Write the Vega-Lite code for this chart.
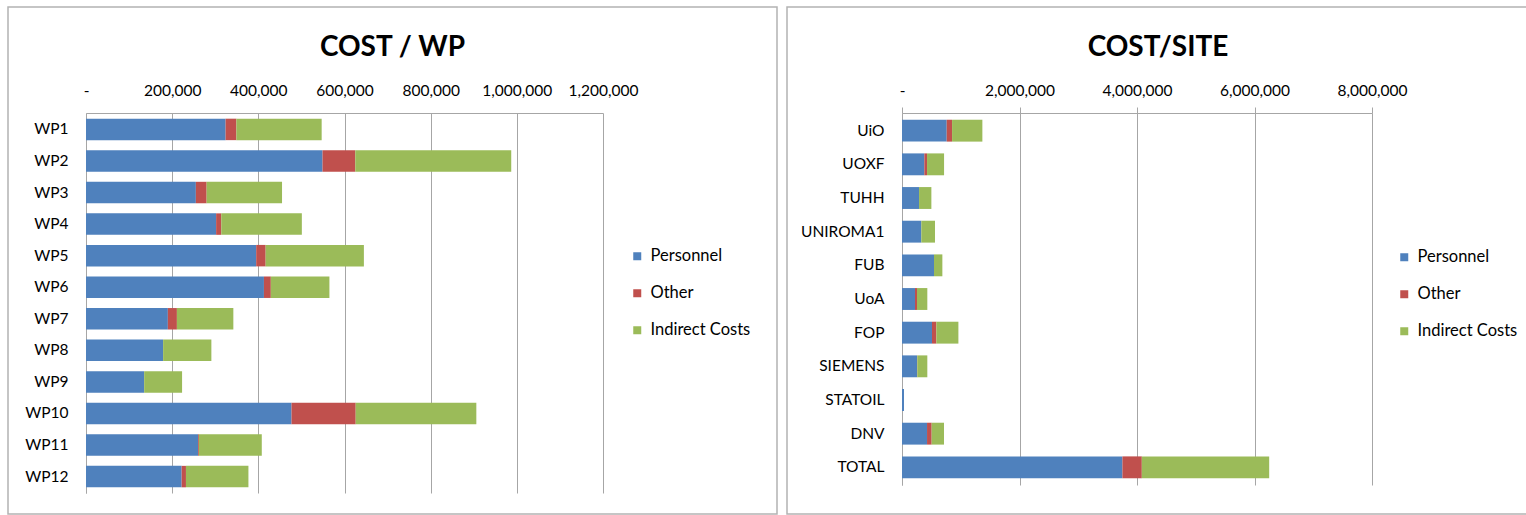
{
  "$schema": "https://vega.github.io/schema/vega-lite/v6.json",
  "padding": {"left": 7, "top": 6, "right": 0, "bottom": 0},
  "spacing": 8,
  "resolve": {"scale": {"color": "independent"}, "legend": {"color": "independent"}},
  "config": {
    "font": "Lato",
    "view": {"stroke": "#b3b3b3", "strokeWidth": 1.5},
    "axis": {"labelFont": "Lato", "labelFontSize": 15.5, "labelColor": "#000", "domainColor": "#a6a6a6", "gridColor": "#a6a6a6", "tickColor": "#a6a6a6", "title": null, "labelOverlap": false, "labelFlush": false, "labelBound": false},
    "legend": {"labelFont": "Lato", "labelFontSize": 16.5, "labelColor": "#000", "symbolType": "square", "symbolSize": 64, "symbolStrokeWidth": 0, "rowPadding": 20, "labelOffset": 5, "padding": 0},
    "title": {"font": "Lato", "fontSize": 28, "fontWeight": "bold", "color": "#000", "anchor": "middle", "frame": "group", "baseline": "alphabetic"}
  },
  "datasets": {
    "wp": [
      {"wp": "WP1", "type": "Personnel", "value": 324000}, {"wp": "WP1", "type": "Other", "value": 25000}, {"wp": "WP1", "type": "Indirect Costs", "value": 198000},
      {"wp": "WP2", "type": "Personnel", "value": 549000}, {"wp": "WP2", "type": "Other", "value": 76000}, {"wp": "WP2", "type": "Indirect Costs", "value": 362000},
      {"wp": "WP3", "type": "Personnel", "value": 255000}, {"wp": "WP3", "type": "Other", "value": 25000}, {"wp": "WP3", "type": "Indirect Costs", "value": 175000},
      {"wp": "WP4", "type": "Personnel", "value": 302000}, {"wp": "WP4", "type": "Other", "value": 12000}, {"wp": "WP4", "type": "Indirect Costs", "value": 187000},
      {"wp": "WP5", "type": "Personnel", "value": 395000}, {"wp": "WP5", "type": "Other", "value": 22000}, {"wp": "WP5", "type": "Indirect Costs", "value": 228000},
      {"wp": "WP6", "type": "Personnel", "value": 413000}, {"wp": "WP6", "type": "Other", "value": 16000}, {"wp": "WP6", "type": "Indirect Costs", "value": 136000},
      {"wp": "WP7", "type": "Personnel", "value": 190000}, {"wp": "WP7", "type": "Other", "value": 21000}, {"wp": "WP7", "type": "Indirect Costs", "value": 131000},
      {"wp": "WP8", "type": "Personnel", "value": 179000}, {"wp": "WP8", "type": "Other", "value": 0}, {"wp": "WP8", "type": "Indirect Costs", "value": 112000},
      {"wp": "WP9", "type": "Personnel", "value": 135000}, {"wp": "WP9", "type": "Other", "value": 0}, {"wp": "WP9", "type": "Indirect Costs", "value": 88000},
      {"wp": "WP10", "type": "Personnel", "value": 477000}, {"wp": "WP10", "type": "Other", "value": 149000}, {"wp": "WP10", "type": "Indirect Costs", "value": 280000},
      {"wp": "WP11", "type": "Personnel", "value": 260000}, {"wp": "WP11", "type": "Other", "value": 2000}, {"wp": "WP11", "type": "Indirect Costs", "value": 146000},
      {"wp": "WP12", "type": "Personnel", "value": 222000}, {"wp": "WP12", "type": "Other", "value": 10000}, {"wp": "WP12", "type": "Indirect Costs", "value": 145000}
    ],
    "site": [
      {"site": "UiO", "type": "Personnel", "value": 761000}, {"site": "UiO", "type": "Other", "value": 91000}, {"site": "UiO", "type": "Indirect Costs", "value": 516000},
      {"site": "UOXF", "type": "Personnel", "value": 380000}, {"site": "UOXF", "type": "Other", "value": 46000}, {"site": "UOXF", "type": "Indirect Costs", "value": 290000},
      {"site": "TUHH", "type": "Personnel", "value": 290000}, {"site": "TUHH", "type": "Other", "value": 0}, {"site": "TUHH", "type": "Indirect Costs", "value": 210000},
      {"site": "UNIROMA1", "type": "Personnel", "value": 329000}, {"site": "UNIROMA1", "type": "Other", "value": 0}, {"site": "UNIROMA1", "type": "Indirect Costs", "value": 233000},
      {"site": "FUB", "type": "Personnel", "value": 545000}, {"site": "FUB", "type": "Other", "value": 0}, {"site": "FUB", "type": "Indirect Costs", "value": 142000},
      {"site": "UoA", "type": "Personnel", "value": 221000}, {"site": "UoA", "type": "Other", "value": 34000}, {"site": "UoA", "type": "Indirect Costs", "value": 176000},
      {"site": "FOP", "type": "Personnel", "value": 511000}, {"site": "FOP", "type": "Other", "value": 74000}, {"site": "FOP", "type": "Indirect Costs", "value": 375000},
      {"site": "SIEMENS", "type": "Personnel", "value": 255000}, {"site": "SIEMENS", "type": "Other", "value": 5000}, {"site": "SIEMENS", "type": "Indirect Costs", "value": 171000},
      {"site": "STATOIL", "type": "Personnel", "value": 34000}, {"site": "STATOIL", "type": "Other", "value": 0}, {"site": "STATOIL", "type": "Indirect Costs", "value": 0},
      {"site": "DNV", "type": "Personnel", "value": 426000}, {"site": "DNV", "type": "Other", "value": 79000}, {"site": "DNV", "type": "Indirect Costs", "value": 210000},
      {"site": "TOTAL", "type": "Personnel", "value": 3752000}, {"site": "TOTAL", "type": "Other", "value": 330000}, {"site": "TOTAL", "type": "Indirect Costs", "value": 2168000}
    ]
  },
  "hconcat": [
    {
      "width": 769,
      "height": 507,
      "data": {"name": "wp"},
      "title": {"text": "COST / WP", "offset": -55},
      "transform": [{"calculate": "indexof(['Personnel','Other','Indirect Costs'], datum.type)", "as": "o"}],
      "mark": {"type": "bar"},
      "encoding": {
        "y": {"field": "wp", "type": "nominal", "sort": null,
              "scale": {"range": [106, 486], "paddingInner": 0.32, "paddingOuter": 0.18},
              "axis": {"orient": "left", "offset": -78, "ticks": false, "labelPadding": 18, "domain": true, "grid": false}},
        "x": {"field": "value", "type": "quantitative", "stack": "zero",
              "scale": {"domain": [0, 1200000], "range": [78, 595], "nice": false},
              "axis": {"orient": "top", "offset": -106, "values": [0, 200000, 400000, 600000, 800000, 1000000, 1200000], "ticks": false, "tickSize": 0, "labelPadding": 18, "labelBaseline": "alphabetic", "grid": true, "labelExpr": "datum.value == 0 ? '-' : datum.label"}},
        "color": {"field": "type", "type": "nominal",
                  "scale": {"domain": ["Personnel", "Other", "Indirect Costs"], "range": ["#4F81BD", "#C0504D", "#9BBB59"]},
                  "legend": {"orient": "none", "legendX": 621, "legendY": 241, "title": null}},
        "order": {"field": "o", "type": "quantitative"}
      }
    },
    {
      "width": 742,
      "height": 507,
      "data": {"name": "site"},
      "title": {"text": "COST/SITE", "offset": -55},
      "transform": [{"calculate": "indexof(['Personnel','Other','Indirect Costs'], datum.type)", "as": "o"}],
      "mark": {"type": "bar"},
      "encoding": {
        "y": {"field": "site", "type": "nominal", "sort": null,
              "scale": {"range": [106, 478], "paddingInner": 0.35, "paddingOuter": 0.2},
              "axis": {"orient": "left", "offset": -115, "ticks": false, "labelPadding": 18, "domain": true, "grid": false}},
        "x": {"field": "value", "type": "quantitative", "stack": "zero",
              "scale": {"domain": [0, 8000000], "range": [115, 585], "nice": false},
              "axis": {"orient": "top", "offset": -106, "values": [0, 2000000, 4000000, 6000000, 8000000], "ticks": true, "tickSize": 6, "labelPadding": 12, "labelBaseline": "alphabetic", "grid": true, "labelExpr": "datum.value == 0 ? '-' : datum.label"}},
        "color": {"field": "type", "type": "nominal",
                  "scale": {"domain": ["Personnel", "Other", "Indirect Costs"], "range": ["#4F81BD", "#C0504D", "#9BBB59"]},
                  "legend": {"orient": "none", "legendX": 609, "legendY": 242, "title": null}},
        "order": {"field": "o", "type": "quantitative"}
      }
    }
  ]
}
